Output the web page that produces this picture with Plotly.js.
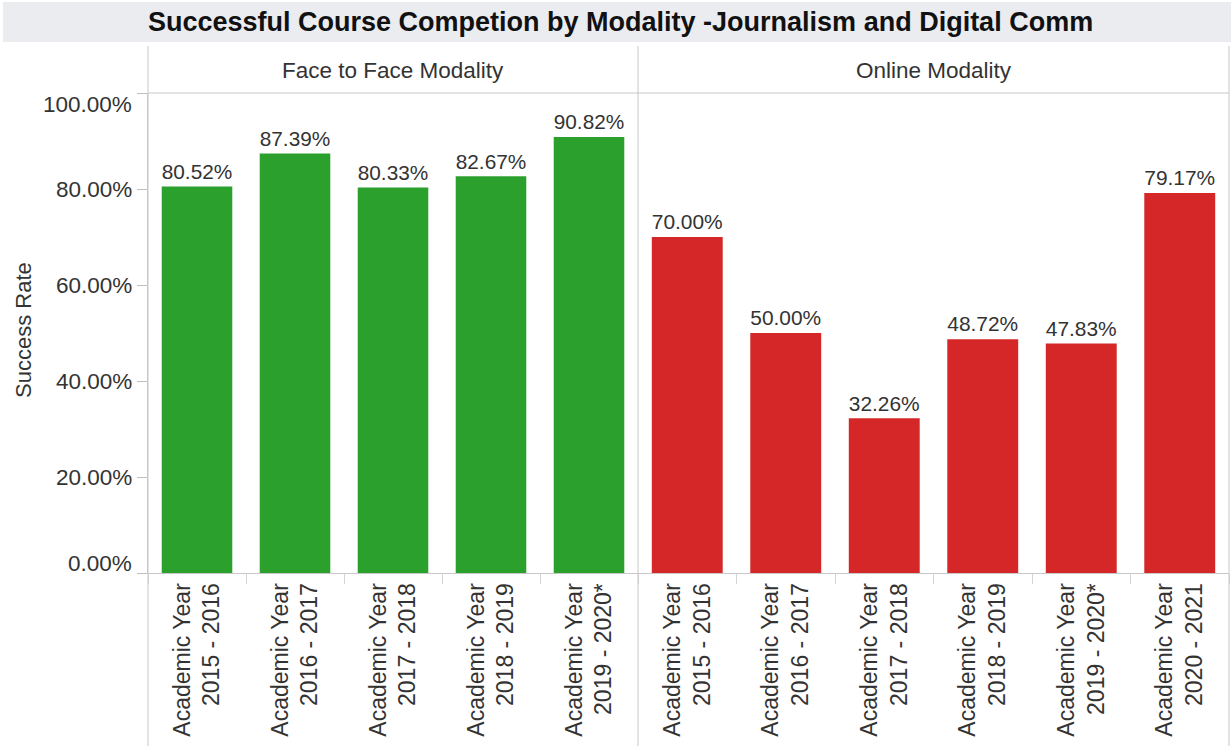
<!DOCTYPE html>
<html><head><meta charset="utf-8">
<script src="https://cdn.plot.ly/plotly-3.0.1.min.js"></script>
<style>html,body{margin:0;padding:0;background:#fff}#chart{width:1231px;height:746px}</style>
</head><body><div id="chart"></div>
<script>
const chartTitle = "Successful Course Competion by Modality -Journalism and Digital Comm";
const panelNames = ["Face to Face Modality", "Online Modality"];
const yAxisTitle = "Success Rate";
const faceYears = ["Academic Year<br>2015 - 2016", "Academic Year<br>2016 - 2017", "Academic Year<br>2017 - 2018", "Academic Year<br>2018 - 2019", "Academic Year<br>2019 - 2020*"];
const faceRates = [80.52, 87.39, 80.33, 82.67, 90.82];
const onlineYears = ["Academic Year<br>2015 - 2016", "Academic Year<br>2016 - 2017", "Academic Year<br>2017 - 2018", "Academic Year<br>2018 - 2019", "Academic Year<br>2019 - 2020*", "Academic Year<br>2020 - 2021"];
const onlineRates = [70.00, 50.00, 32.26, 48.72, 47.83, 79.17];
const yTickValues = [0, 20, 40, 60, 80, 100];
const yTickLabels = ["0.00%", "20.00%", "40.00%", "60.00%", "80.00%", "100.00%"];

const W = 1231, H = 746, L = 148, R = 1229, T = 93, B = 573;
const px = x => (x - L) / (R - L);
const py = y => (B - y) / (B - T);
const split = px(638);
const FONT = '"Liberation Sans", Arial, Helvetica, sans-serif';
const TXT = '#333333';
const GRID = '#c8c8c8';
const FS = 22.5;

const common = {
  type: 'bar',
  texttemplate: '%{y:.2f}%',
  textposition: 'outside',
  textfont: {family: FONT, size: FS, color: TXT},
  cliponaxis: false,
  hoverinfo: 'x+y'
};
const traces = [
  Object.assign({}, common, {x: faceYears, y: faceRates, xaxis: 'x', yaxis: 'y', marker: {color: '#2ca02c'}}),
  Object.assign({}, common, {x: onlineYears, y: onlineRates, xaxis: 'x2', yaxis: 'y', marker: {color: '#d62728'}})
];

const xCommon = {
  type: 'category', showline: true, linecolor: GRID, linewidth: 1,
  ticks: 'outside', tickson: 'boundaries', ticklen: 10, tickcolor: '#d4d4d4', tickwidth: 1,
  tickangle: -90, tickfont: {family: FONT, size: 23, color: TXT},
  showgrid: false, zeroline: false, fixedrange: true, anchor: 'y'
};

const annotations = [];
annotations.push({xref: 'paper', yref: 'paper', x: px(620), y: py(22), text: '<b>' + chartTitle + '</b>', showarrow: false,
  font: {family: FONT, size: 27, color: '#111'}, xanchor: 'center', yanchor: 'middle'});
annotations.push({xref: 'paper', yref: 'paper', x: (0 + split) / 2, y: py(70), text: panelNames[0], showarrow: false,
  font: {family: FONT, size: FS, color: TXT}, xanchor: 'center', yanchor: 'middle'});
annotations.push({xref: 'paper', yref: 'paper', x: (split + 1) / 2, y: py(70), text: panelNames[1], showarrow: false,
  font: {family: FONT, size: FS, color: TXT}, xanchor: 'center', yanchor: 'middle'});
annotations.push({xref: 'paper', yref: 'paper', x: px(23), y: py(330), text: yAxisTitle, showarrow: false, textangle: -90,
  font: {family: FONT, size: 22, color: TXT}, xanchor: 'center', yanchor: 'middle'});
yTickValues.forEach((v, i) => {
  let shift = 0;
  if (v === 100) shift = -11;
  if (v === 0) shift = 10;
  annotations.push({xref: 'paper', yref: 'y', x: 0, y: v, xshift: -14, yshift: shift, text: yTickLabels[i], showarrow: false,
    font: {family: FONT, size: FS, color: TXT}, xanchor: 'right', yanchor: 'middle'});
});

const line = (x0, y0, x1, y1) => ({type: 'line', xref: 'paper', yref: 'paper', x0, y0, x1, y1, line: {color: GRID, width: 1}});
const shapes = [
  {type: 'rect', xref: 'paper', yref: 'paper', x0: px(3), x1: px(1231), y0: py(42), y1: py(2), fillcolor: '#ebecf0', line: {width: 0}, layer: 'below'},
  line(px(148), py(93), px(1229), py(93)),
  line(px(148), py(46), px(148), py(746)),
  line(split, py(46), split, py(746)),
  line(px(1229), py(46), px(1229), py(746))
];

const layout = {
  width: W, height: H,
  margin: {l: L, r: W - R, t: T, b: H - B, pad: 0},
  paper_bgcolor: '#ffffff', plot_bgcolor: '#ffffff',
  showlegend: false,
  bargap: 0.28,
  font: {family: FONT, color: TXT},
  xaxis: Object.assign({}, xCommon, {domain: [0, split]}),
  xaxis2: Object.assign({}, xCommon, {domain: [split, 1]}),
  yaxis: {range: [0, 100], tickvals: yTickValues, showticklabels: false, ticks: 'outside', ticklen: 10,
    tickcolor: '#bdbdbd', showline: true, linecolor: GRID, showgrid: false, zeroline: false, fixedrange: true},
  annotations, shapes
};
Plotly.newPlot('chart', traces, layout, {displayModeBar: false, staticPlot: true});
</script></body></html>
